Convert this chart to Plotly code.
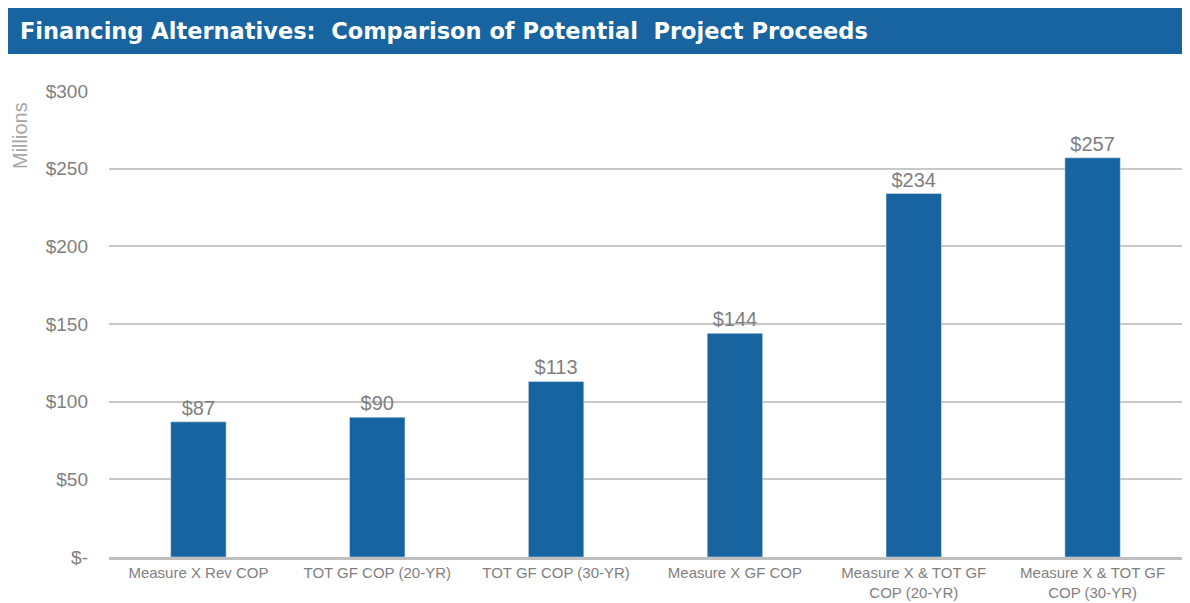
import plotly.graph_objects as go

categories = ["Measure X Rev COP", "TOT GF COP (20-YR)", "TOT GF COP (30-YR)",
              "Measure X GF COP", "Measure X & TOT GF<br>COP (20-YR)", "Measure X & TOT GF<br>COP (30-YR)"]
values = [87, 90, 113, 144, 234, 257]
tick_vals = [0, 50, 100, 150, 200, 250, 300]
tick_text = ["$-", "$50", "$100", "$150", "$200", "$250", "$300"]

# page body has an 8px margin; work in reference pixel coords and shift
OFF = 8
W, H = 1190 - OFF, 603 - OFF
ML, MT = 109 - OFF, 91 - OFF
MR = W - (1182 - OFF)
MB = H - (557 - OFF)
PW, PH = W - ML - MR, H - MT - MB

def px(x):
    return (x - OFF - ML) / PW

def py(y):
    return (H - MB - (y - OFF)) / PH

BLUE = "#1764A0"
GRAY = "#7F7F7F"

fig = go.Figure()
fig.add_trace(go.Bar(
    x=categories, y=values, marker_color=BLUE, width=0.31,
    text=[f"${v}" for v in values], textposition="outside",
    textfont=dict(size=20, color=GRAY, family="Liberation Sans, Arial"),
    cliponaxis=False,
))

fig.update_layout(
    width=W, height=H,
    margin=dict(l=ML, r=MR, t=MT, b=MB),
    paper_bgcolor="white", plot_bgcolor="white",
    showlegend=False,
    font=dict(family="Liberation Sans, Arial", color=GRAY),
    xaxis=dict(
        showline=True, linecolor="#BFBFBF", linewidth=3,
        tickfont=dict(size=15, color=GRAY, family="Liberation Sans, Arial"),
        ticks="", automargin=False, ticklabelstandoff=0,
    ),
    yaxis=dict(
        range=[0, 300], tickvals=tick_vals, ticktext=tick_text,
        showgrid=True, gridcolor="#C8C8C8", gridwidth=2,
        zeroline=False,
        tickfont=dict(size=19, color=GRAY),
        ticks="", ticklabelstandoff=20, automargin=False,
    ),
)

fig.add_shape(type="rect", xref="paper", yref="paper",
              x0=px(8), x1=px(1195), y0=py(54), y1=py(8),
              fillcolor=BLUE, line=dict(width=0), layer="above")
fig.add_annotation(text="<b>Financing Alternatives:  Comparison of Potential  Project Proceeds</b>",
                   xref="paper", yref="paper", x=px(18), y=py(31),
                   xanchor="left", yanchor="middle", showarrow=False,
                   font=dict(size=22.5, color="white", family="DejaVu Sans"))
fig.add_annotation(text="Millions", xref="paper", yref="paper",
                   x=px(20), y=py(136), textangle=-90,
                   xanchor="center", yanchor="middle", showarrow=False,
                   font=dict(size=20, color="#A6A6A6"))

fig.write_html("out.html")
